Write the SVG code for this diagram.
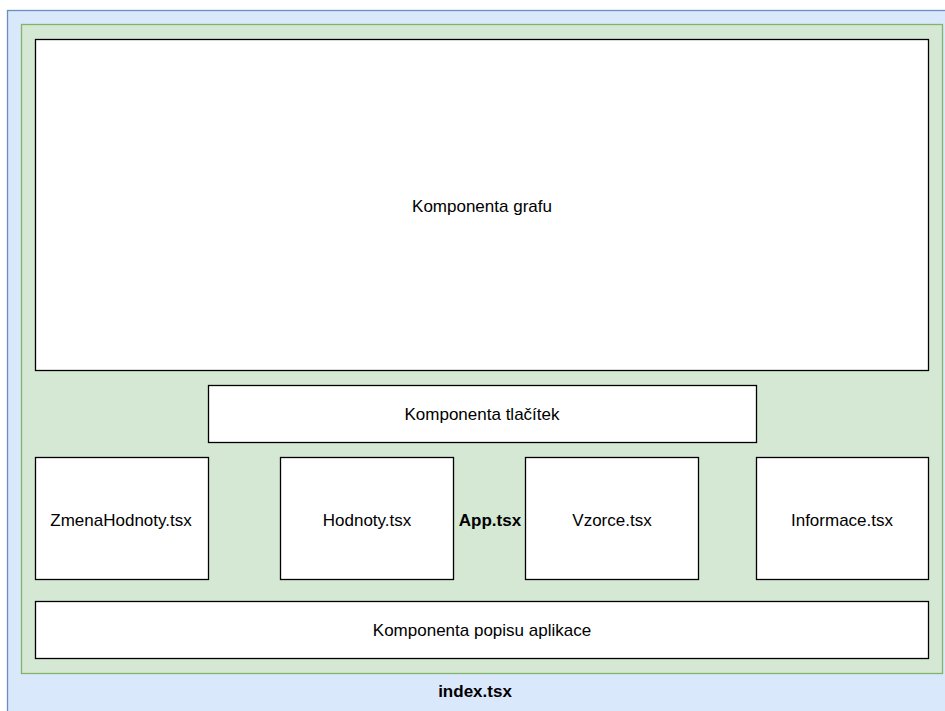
<svg xmlns="http://www.w3.org/2000/svg" width="945" height="711" viewBox="0 0 945 711">
<style>
.box{fill:#ffffff;stroke:#000000;stroke-width:1.3}
.t{font-family:"Liberation Sans",Arial,sans-serif;font-size:17px;fill:#000000;text-anchor:middle;dominant-baseline:central}
.b{font-weight:bold}
</style>
<rect width="945" height="711" fill="#ffffff"/>
<g id="index">
<rect x="7.5" y="10.5" width="945" height="710" fill="#dae8fc" stroke="#6c8ebf" stroke-width="1.3"/>
<text class="t b" x="475" y="691">index.tsx</text>
</g>
<g id="app">
<rect x="21.5" y="24.5" width="921" height="649" fill="#d5e8d4" stroke="#82b366" stroke-width="1.3"/>
<text class="t b" x="490" y="520">App.tsx</text>
</g>
<g id="graf">
<rect class="box" x="35.5" y="39.5" width="893" height="331"/>
<text class="t" x="482" y="206">Komponenta grafu</text>
</g>
<g id="tlacitka">
<rect class="box" x="208.5" y="385.5" width="548" height="57"/>
<text class="t" x="482" y="414">Komponenta tlačítek</text>
</g>
<g id="zmena">
<rect class="box" x="35.5" y="457.5" width="173" height="122"/>
<text class="t" x="121" y="520">ZmenaHodnoty.tsx</text>
</g>
<g id="hodnoty">
<rect class="box" x="280.5" y="457.5" width="173" height="122"/>
<text class="t" x="367" y="520">Hodnoty.tsx</text>
</g>
<g id="vzorce">
<rect class="box" x="525.5" y="457.5" width="173" height="122"/>
<text class="t" x="612" y="520">Vzorce.tsx</text>
</g>
<g id="informace">
<rect class="box" x="756.5" y="457.5" width="172" height="122"/>
<text class="t" x="842" y="520">Informace.tsx</text>
</g>
<g id="popis">
<rect class="box" x="35.5" y="601.5" width="893" height="57"/>
<text class="t" x="482" y="630">Komponenta popisu aplikace</text>
</g>
<g id="connectors"></g>
</svg>
